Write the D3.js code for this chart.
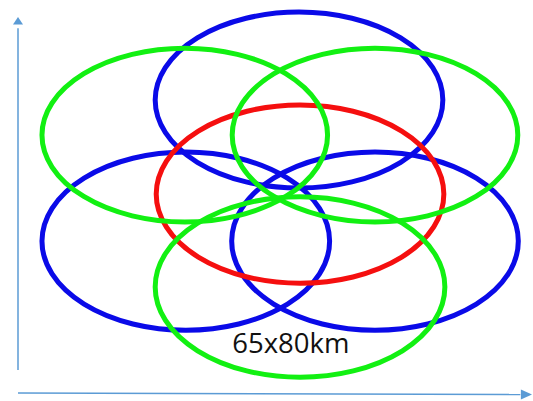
<!DOCTYPE html>
<html><head><meta charset="utf-8">
<script src="https://cdn.jsdelivr.net/npm/d3@7"></script>
<style>html,body{margin:0;padding:0;background:#fff;}svg{display:block;}</style>
</head><body>
<svg id="c" width="533" height="401"></svg>
<script>
// Ellipse centres in chart units, radii, colours, draw order
const names   = ["blueTop","greenUL","greenUR","redCenter","blueLL","blueLR","greenBottom"];
const centerX = [55.1, 32.7, 70.0, 55.3, 32.9, 70.0, 55.3];
const centerY = [77.9, 68.6, 68.6, 52.9, 40.4, 40.4, 28.2];
const radiusX = [28.2, 28.0, 28.0, 28.2, 28.2, 28.1, 28.4];
const radiusY = [23.4, 23.1, 23.1, 23.7, 23.7, 23.7, 24.0];
const colorKey = ["blue","green","green","red","blue","blue","green"];
const label = "65x80km";

const palette = {blue:"#0a0ae8", green:"#12f012", red:"#f50f0f"};
const order = {blue:0, red:1, green:2};

const svg = d3.select("#c");
const x = d3.scaleLinear().domain([0,100]).range([18,528]);
const y = d3.scaleLinear().domain([0,100]).range([393,17]);

const data = names.map((n,i)=>({n, cx:centerX[i], cy:centerY[i], rx:radiusX[i], ry:radiusY[i], c:colorKey[i]}))
  .sort((a,b)=>order[a.c]-order[b.c]);

svg.append("g").selectAll("ellipse").data(data).join("ellipse")
  .attr("cx", d=>x(d.cx))
  .attr("cy", d=>y(d.cy))
  .attr("rx", d=>x(d.rx)-x(0))
  .attr("ry", d=>y(0)-y(d.ry))
  .attr("fill","none")
  .attr("stroke", d=>palette[d.c])
  .attr("stroke-width",5);

// axes arrows
const axCol = "#5b9bd5";
svg.append("line").attr("x1",x(0)).attr("y1",y(6.1)).attr("x2",x(0)).attr("y2",y(97))
  .attr("stroke",axCol).attr("stroke-width",1.5);
svg.append("path").attr("d",`M${x(0)},${y(100)} L${x(0)-5},${y(98)} L${x(0)+5},${y(98)} Z`).attr("fill",axCol);
svg.append("line").attr("x1",x(0)).attr("y1",y(0)).attr("x2",x(98.5)).attr("y2",y(-0.4))
  .attr("stroke",axCol).attr("stroke-width",1.5);
svg.append("path").attr("d",`M${x(100)+4},${y(-0.4)} L${x(98.6)},${y(-0.4)-5} L${x(98.6)},${y(-0.4)+5} Z`).attr("fill",axCol);

svg.append("text").attr("x",x(53.5)).attr("y",y(10.6))
  .attr("text-anchor","middle")
  .attr("font-family","Open Sans, sans-serif").attr("font-size",27.5)
  .attr("fill","#111").text(label);
</script>
</body></html>
